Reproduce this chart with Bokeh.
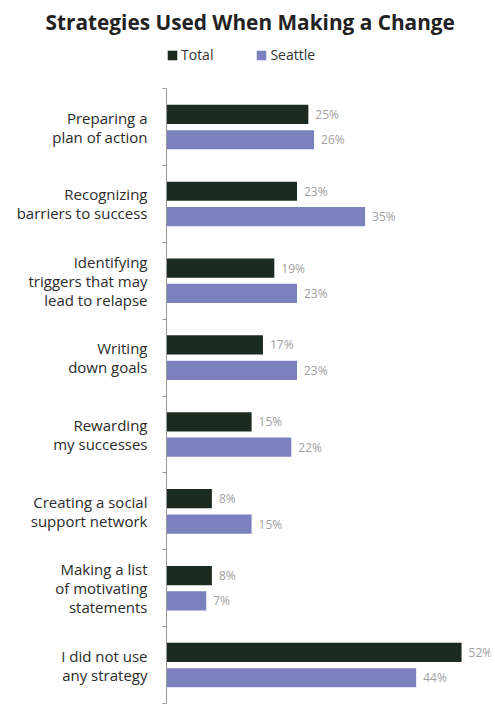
from bokeh.plotting import figure
from bokeh.models import (ColumnDataSource, Range1d, FixedTicker, Legend, LegendItem)
from bokeh.core.properties import value
from bokeh.embed import file_html
from bokeh.resources import INLINE

categories = [
    "Preparing a\nplan of action",
    "Recognizing\nbarriers to success",
    "Identifying\ntriggers that may\nlead to relapse",
    "Writing\ndown goals",
    "Rewarding\nmy successes",
    "Creating a social\nsupport network",
    "Making a list\nof motivating\nstatements",
    "I did not use\nany strategy",
]
total = [25, 23, 19, 17, 15, 8, 8, 52]
seattle = [26, 35, 23, 23, 22, 15, 7, 44]
series_names = ["Total", "Seattle"]
colors = ["#1b2b22", "#7b80bf"]
title_text = "Strategies Used When Making a Change"

FONT = "Open Sans"
idx = list(range(len(categories)))
off = 0.165
bar_h = 0.25

W, H = 495, 704
LEFT, RIGHT, BOTTOM = 166, 5, 1
T_GUESS = 42          # top of the plot frame (below the title)
AXIS_TOP = 90         # canvas y where the category block starts
PX_PER_UNIT = (H - BOTTOM - AXIS_TOP) / len(categories)
y_top = -0.5 - (AXIS_TOP - T_GUESS) / PX_PER_UNIT

src_t = ColumnDataSource(dict(y=[i - off for i in idx], v=total,
                              lab=[f"{v}%" for v in total]))
src_s = ColumnDataSource(dict(y=[i + off for i in idx], v=seattle,
                              lab=[f"{v}%" for v in seattle]))

p = figure(width=W, height=H, output_backend="svg", toolbar_location=None,
           x_range=Range1d(0, 57.1), y_range=Range1d(len(categories) - 0.5, y_top),
           min_border_left=LEFT, min_border_right=RIGHT, min_border_top=0,
           min_border_bottom=BOTTOM)
p.outline_line_color = None
p.xgrid.visible = False
p.ygrid.visible = False
p.xaxis.visible = False
p.background_fill_color = "white"
p.border_fill_color = "white"

r_t = p.hbar(y="y", right="v", left=0, height=bar_h, source=src_t,
             fill_color=colors[0], line_color=None)
r_s = p.hbar(y="y", right="v", left=0, height=bar_h, source=src_s,
             fill_color=colors[1], line_color=None)

for src in (src_t, src_s):
    p.text(x="v", y="y", text="lab", source=src, x_offset=7,
           text_font=value(FONT), text_font_size="12px", text_color="#a0a0a0",
           text_baseline="middle", text_align="left")

yax = p.yaxis[0]
yax.bounds = (-0.5, len(categories) - 0.5)
yax.ticker = FixedTicker(ticks=idx, minor_ticks=[i - 0.5 for i in range(len(categories) + 1)])
yax.major_label_overrides = {i: c for i, c in enumerate(categories)}
yax.major_tick_line_color = None
yax.major_tick_out = 0
yax.major_tick_in = 0
yax.minor_tick_out = 4
yax.minor_tick_in = 0
yax.minor_tick_line_color = "#999999"
yax.axis_line_color = "#999999"
yax.major_label_standoff = 15
yax.major_label_text_font = FONT
yax.major_label_text_font_size = "15px"
yax.major_label_text_color = "#2b2b2b"
yax.major_label_text_align = "right"
yax.major_label_text_line_height = 0.95

p.title.text = title_text
p.title.align = "left"
p.title.offset = 45 - LEFT
p.title.text_font = FONT
p.title.text_font_style = "bold"
p.title.text_font_size = "20.8px"
p.title.text_color = "#222222"

legend = Legend(items=[LegendItem(label=series_names[0], renderers=[r_t]),
                       LegendItem(label=series_names[1], renderers=[r_s])],
                orientation="horizontal", location=(0, H - BOTTOM - 64),
                glyph_width=12, glyph_height=12, label_text_font=FONT,
                label_text_font_size="14px", label_text_color="#333333",
                spacing=42, label_standoff=3, border_line_color=None,
                background_fill_alpha=0, padding=0, margin=0)
p.add_layout(legend)

open("out.html", "w").write(file_html(p, INLINE))
